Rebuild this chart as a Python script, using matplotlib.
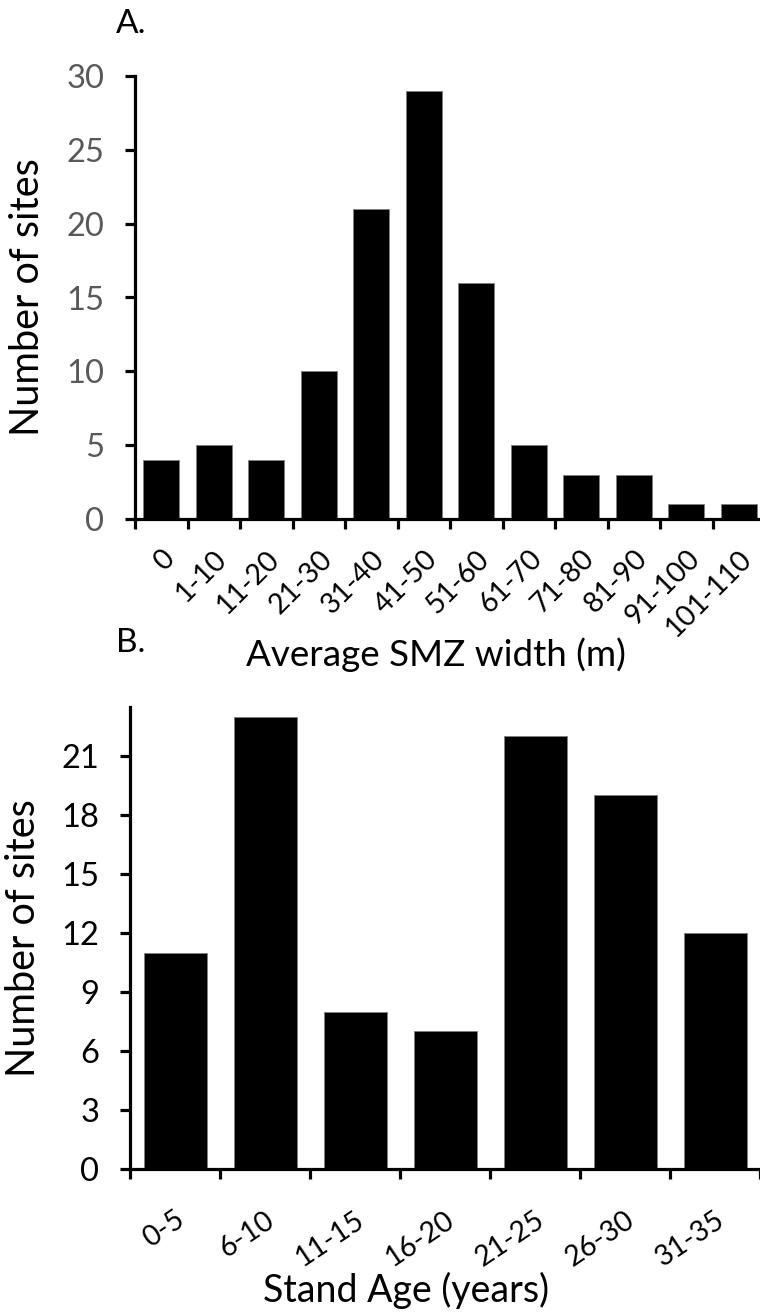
import matplotlib.pyplot as plt

plt.rcParams['font.family'] = ['Lato', 'DejaVu Sans']

# panel A: average SMZ width
smz_bins = ["0", "1-10", "11-20", "21-30", "31-40", "41-50", "51-60",
            "61-70", "71-80", "81-90", "91-100", "101-110"]
smz_sites = [4, 5, 4, 10, 21, 29, 16, 5, 3, 3, 1, 1]
smz_yticks = [0, 5, 10, 15, 20, 25, 30]

# panel B: stand age
age_bins = ["0-5", "6-10", "11-15", "16-20", "21-25", "26-30", "31-35"]
age_sites = [11, 23, 8, 7, 22, 19, 12]
age_yticks = [0, 3, 6, 9, 12, 15, 18, 21]

W, H = 760, 1312
fig = plt.figure(figsize=(W / 100, H / 100), dpi=100)


def px_axes(left, top, right, bottom):
    return fig.add_axes([left / W, 1 - bottom / H, (right - left) / W, (bottom - top) / H])


def style(ax, tick_color):
    for s in ["top", "right"]:
        ax.spines[s].set_visible(False)
    for s in ["left", "bottom"]:
        ax.spines[s].set_linewidth(2.3)
    ax.tick_params(axis="both", width=2.3, length=7, direction="out")
    ax.tick_params(axis="y", labelsize=23.5, labelcolor=tick_color, pad=15)


# ---- A ----
axA = px_axes(135, 76, 765, 519)
xa = range(len(smz_bins))
axA.bar(xa, smz_sites, width=0.68, color="black", edgecolor="#808080", linewidth=0.6)
axA.set_xlim(-0.5, len(smz_bins) - 0.5)
axA.set_ylim(0, 30)
axA.set_yticks(smz_yticks)
axA.set_xticks([i - 0.5 for i in range(len(smz_bins) + 1)])
axA.set_xticklabels([])
axA.set_xticks(list(xa), minor=True)
axA.set_xticklabels(smz_bins, minor=True, rotation=45, ha="right",
                    rotation_mode="anchor", fontsize=20.5)
axA.tick_params(axis="x", which="minor", length=0, pad=19)
style(axA, "#595959")
axA.spines["left"].set_bounds(0, 30)

fig.text(131 / W, 1 - 24 / H, "A.", fontsize=24, ha="center", va="center")
fig.text(436 / W, 1 - 655 / H, "Average SMZ width (m)", fontsize=26.5, ha="center", va="center")
fig.text(28 / W, 1 - 297 / H, "Number of sites", fontsize=28.5, rotation=90,
         ha="center", va="center")

# ---- B ----
axB = px_axes(130, 707, 760, 1169)
xb = range(len(age_bins))
axB.bar(xb, age_sites, width=0.7, color="black", edgecolor="#808080", linewidth=0.6)
axB.set_xlim(-0.5, len(age_bins) - 0.5)
axB.set_ylim(0, 23.5)
axB.set_yticks(age_yticks)
axB.set_xticks([i - 0.5 for i in range(len(age_bins) + 1)])
axB.set_xticklabels([])
axB.set_xticks(list(xb), minor=True)
axB.set_xticklabels(age_bins, minor=True, rotation=34, ha="right",
                    rotation_mode="anchor", fontsize=20.5)
axB.tick_params(axis="x", which="minor", length=0, pad=27)
style(axB, "black")

fig.text(131 / W, 1 - 643 / H, "B.", fontsize=24, ha="center", va="center")
fig.text(406 / W, 1 - 1290 / H, "Stand Age (years)", fontsize=27, ha="center", va="center")
fig.text(24 / W, 1 - 938 / H, "Number of sites", fontsize=28.5, rotation=90,
         ha="center", va="center")

fig.savefig("out.png", dpi=100)
